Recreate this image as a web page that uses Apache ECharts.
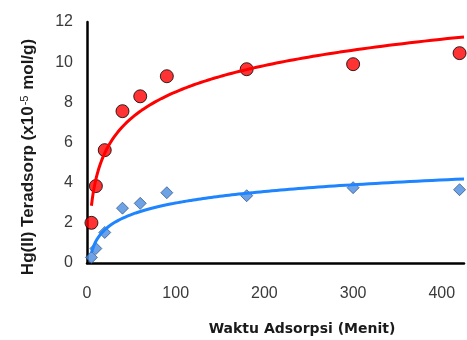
<!DOCTYPE html>
<html>
<head>
<meta charset="utf-8">
<style>
  html, body { margin: 0; padding: 0; background: #fff; }
  #chart { width: 467px; height: 340px; }
</style>
<script src="https://cdn.jsdelivr.net/npm/echarts@6/dist/echarts.min.js"></script>
</head>
<body>
<div id="chart"></div>
<script>
// Adsorption time (minutes)
const waktu = [5, 10, 20, 40, 60, 90, 180, 300, 420];
// Hg(II) adsorbed (x10^-5 mol/g)
const seriesMerah = [2.0, 3.83, 5.62, 7.56, 8.3, 9.3, 9.65, 9.9, 10.45];
const seriesBiru = [0.28, 0.72, 1.52, 2.73, 2.97, 3.5, 3.35, 3.75, 3.65];
const xTicks = [0, 100, 200, 300, 400];
const yTicks = [0, 2, 4, 6, 8, 10, 12];

const X_MAX = 425;

// Least-squares logarithmic trendline y = a*ln(x) + b
function logFit(xs, ys) {
  const lx = xs.map(Math.log);
  const n = xs.length;
  const mx = lx.reduce((s, v) => s + v, 0) / n;
  const my = ys.reduce((s, v) => s + v, 0) / n;
  let sxy = 0, sxx = 0;
  for (let i = 0; i < n; i++) {
    sxy += (lx[i] - mx) * (ys[i] - my);
    sxx += (lx[i] - mx) * (lx[i] - mx);
  }
  const a = sxy / sxx;
  const b = my - a * mx;
  const pts = [];
  const x0 = xs[0];
  const steps = 200;
  for (let i = 0; i <= steps; i++) {
    const x = x0 * Math.pow(X_MAX / x0, i / steps);
    pts.push([x, a * Math.log(x) + b]);
  }
  return pts;
}

const chart = echarts.init(document.getElementById('chart'), null, { renderer: 'canvas' });

const axisLabelStyle = {
  color: '#3a3a3a',
  fontFamily: 'Liberation Sans, Arial, sans-serif',
  fontSize: 16
};

chart.setOption({
  animation: false,
  grid: { left: 87, top: 22, right: 0, bottom: 77, containLabel: false },
  xAxis: {
    type: 'value',
    min: 0,
    max: X_MAX,
    interval: 100,
    axisLine: { show: true, lineStyle: { color: '#000', width: 2.5 } },
    axisTick: { show: false },
    splitLine: { show: false },
    axisLabel: Object.assign({
      margin: 23,
      formatter: v => (xTicks.indexOf(v) >= 0 ? String(v) : '')
    }, axisLabelStyle)
  },
  yAxis: {
    type: 'value',
    min: 0,
    max: 12,
    interval: 2,
    axisLine: { show: true, onZero: false, lineStyle: { color: '#000', width: 2.5 } },
    axisTick: { show: false },
    splitLine: { show: false },
    axisLabel: Object.assign({
      margin: 14,
      formatter: v => (yTicks.indexOf(v) >= 0 ? String(v) : '')
    }, axisLabelStyle)
  },
  graphic: [
    {
      type: 'text',
      x: 28,
      y: 157,
      rotation: Math.PI / 2,
      style: {
        text: '{b|Hg(II) Teradsorp (x10}{s|-5}{b| mol/g)}',
        align: 'center',
        verticalAlign: 'middle',
        rich: {
          b: { fontFamily: 'Liberation Sans, Arial, sans-serif', fontWeight: 'bold', fontSize: 17, fill: '#1a1a1a' },
          s: { fontFamily: 'Liberation Sans, Arial, sans-serif', fontWeight: 'normal', fontSize: 11, fill: '#1a1a1a', verticalAlign: 'top', padding: [0, 1, 7, 1] }
        }
      }
    },
    {
      type: 'text',
      x: 302,
      y: 329,
      style: {
        text: 'Waktu Adsorpsi (Menit)',
        align: 'center',
        verticalAlign: 'middle',
        fontFamily: 'DejaVu Sans, Verdana, sans-serif',
        fontWeight: 'bold',
        fontSize: 14,
        fill: '#1a1a1a'
      }
    }
  ],
  series: [
    {
      type: 'scatter',
      data: waktu.map((t, i) => [t, seriesMerah[i]]),
      symbol: 'circle',
      symbolSize: 13,
      itemStyle: { color: '#ff0000', borderColor: '#000', borderWidth: 1 },
      z: 3
    },
    {
      type: 'scatter',
      data: waktu.map((t, i) => [t, seriesBiru[i]]),
      symbol: 'diamond',
      symbolSize: [12, 12],
      itemStyle: { color: '#4a8be0', borderColor: '#1d3f6e', borderWidth: 0.8 },
      z: 3
    },
    {
      type: 'line',
      data: logFit(waktu, seriesMerah),
      showSymbol: false,
      smooth: false,
      lineStyle: { color: '#ff0000', width: 3 },
      z: 4
    },
    {
      type: 'line',
      data: logFit(waktu, seriesBiru),
      showSymbol: false,
      smooth: false,
      lineStyle: { color: '#1e84ff', width: 3 },
      z: 4
    }
  ]
});
</script>
</body>
</html>
